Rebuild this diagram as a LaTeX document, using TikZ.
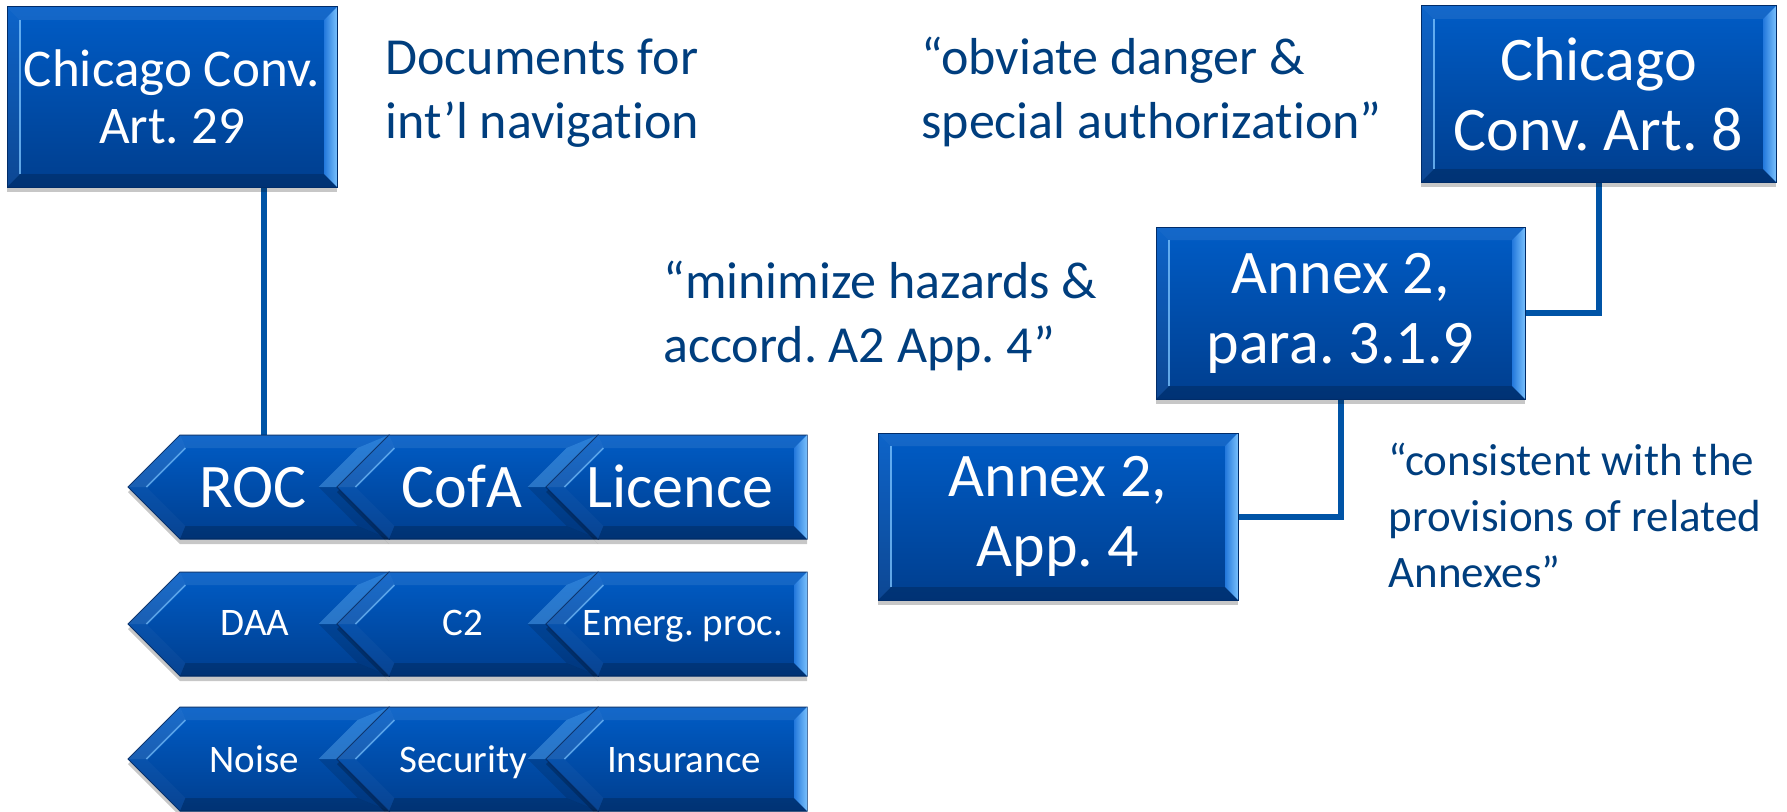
\documentclass[tikz,border=0pt]{standalone}
\usepackage{fontspec}
\setmainfont{Carlito}[Ligatures={NoCommon}]
\frenchspacing
\usetikzlibrary{shadows,calc,backgrounds}

\definecolor{boxtop}{RGB}{0,92,198}
\definecolor{boxbot}{RGB}{0,62,142}
\definecolor{boxline}{RGB}{0,44,105}
\definecolor{bevlight}{RGB}{120,192,252}
\definecolor{bevmid}{RGB}{35,120,220}
\definecolor{linkblue}{RGB}{0,84,166}
\definecolor{noteblue}{RGB}{0,62,126}

\tikzset{
  softshadow/.style={drop shadow={shadow xshift=0pt, shadow yshift=-2.5pt, opacity=0.22, fill=black}},
  bevelbox/.style={rectangle, inner sep=0pt, align=center, text=white,
    top color=boxtop, bottom color=boxbot, draw=boxline, line width=0.5pt, softshadow,
    path picture={
      \coordinate (nw) at (path picture bounding box.north west);
      \coordinate (ne) at (path picture bounding box.north east);
      \coordinate (sw) at (path picture bounding box.south west);
      \coordinate (se) at (path picture bounding box.south east);
      \fill[white,opacity=0.08] (nw) -- (ne) -- ($(ne)+(-13,-13)$) -- ($(nw)+(13,-13)$) -- cycle;
      \fill[black,opacity=0.18] (sw) -- (se) -- ($(se)+(-13,13)$) -- ($(sw)+(13,13)$) -- cycle;
      \fill[white,opacity=0.05] (nw) -- (sw) -- ($(sw)+(13,13)$) -- ($(nw)+(13,-13)$) -- cycle;
      \shade[left color=bevmid, right color=bevlight] (ne) -- (se) -- ($(se)+(-13,13)$) -- ($(ne)+(-13,-13)$) -- cycle;
      \draw[bevlight,line width=0.8pt,opacity=0.8] ($(nw)+(13,-13)$) -- ($(sw)+(13,13)$);
    }},
  chevfill/.style={top color=boxtop, bottom color=boxbot, draw=boxline, line width=0.5pt, softshadow},
  chevlabel/.style={text=white, inner sep=0pt, anchor=base, font=\fontsize{31}{36}\selectfont},
  chevsmall/.style={text=white, inner sep=0pt, anchor=base, font=\fontsize{19.5}{24}\selectfont},
  quotetext/.style={text=noteblue, align=left, inner sep=0pt, anchor=base west, font=\fontsize{26}{32}\selectfont},
  link/.style={draw=linkblue, line width=3pt},
}

% chevron pointing left with a notch on its right side: tip x, top y, bottom y
\newcommand\notchchev[3]{%
  \pgfmathsetmacro\midy{(#2+#3)/2}
  \shade[chevfill] (#1,\midy) -- ({#1+52},#2) -- ({#1+261},#2) -- ({#1+209},\midy) -- ({#1+261},#3) -- ({#1+52},#3) -- cycle;
  \fill[white,opacity=0.08] ({#1+52},#2) -- ({#1+261},#2) -- ({#1+229.6},{#2-13}) -- ({#1+57.4},{#2-13}) -- cycle;
  \fill[black,opacity=0.18] ({#1+52},#3) -- ({#1+261},#3) -- ({#1+229.6},{#3+13}) -- ({#1+57.4},{#3+13}) -- cycle;
  \fill[white,opacity=0.1] (#1,\midy) -- ({#1+52},#2) -- ({#1+57.4},{#2-13}) -- ({#1+18.4},\midy) -- cycle;
  \fill[white,opacity=0.03] (#1,\midy) -- ({#1+52},#3) -- ({#1+57.4},{#3+13}) -- ({#1+18.4},\midy) -- cycle;
  \fill[bevlight,opacity=0.35] ({#1+261},#2) -- ({#1+209},\midy) -- ({#1+190.6},\midy) -- ({#1+229.6},{#2-13}) -- cycle;
  \fill[black,opacity=0.12] ({#1+261},#3) -- ({#1+209},\midy) -- ({#1+190.6},\midy) -- ({#1+229.6},{#3+13}) -- cycle;
  \draw[bevlight,line width=0.8pt,opacity=0.7] ({#1+18.4},\midy) -- ({#1+57.4},{#2-13});
}
% chevron pointing left with a flat right end: tip x, top y, bottom y, right x
\newcommand\flatchev[4]{%
  \pgfmathsetmacro\midy{(#2+#3)/2}
  \shade[chevfill] (#1,\midy) -- ({#1+52},#2) -- (#4,#2) -- (#4,#3) -- ({#1+52},#3) -- cycle;
  \fill[white,opacity=0.08] ({#1+52},#2) -- (#4,#2) -- ({#4-13},{#2-13}) -- ({#1+57.4},{#2-13}) -- cycle;
  \fill[black,opacity=0.18] ({#1+52},#3) -- (#4,#3) -- ({#4-13},{#3+13}) -- ({#1+57.4},{#3+13}) -- cycle;
  \fill[white,opacity=0.1] (#1,\midy) -- ({#1+52},#2) -- ({#1+57.4},{#2-13}) -- ({#1+18.4},\midy) -- cycle;
  \fill[white,opacity=0.03] (#1,\midy) -- ({#1+52},#3) -- ({#1+57.4},{#3+13}) -- ({#1+18.4},\midy) -- cycle;
  \shade[left color=bevmid, right color=bevlight] (#4,#2) -- (#4,#3) -- ({#4-13},{#3+13}) -- ({#4-13},{#2-13}) -- cycle;
  \draw[bevlight,line width=0.8pt,opacity=0.7] ({#1+18.4},\midy) -- ({#1+57.4},{#2-13});
}

\begin{document}
\begin{tikzpicture}[x=0.5pt,y=0.5pt]
\useasboundingbox (0,0) rectangle (1787,811);

% rows of chevrons
\notchchev{128}{376}{272}
\notchchev{337}{376}{272}
\flatchev{546}{376}{272}{807}
\notchchev{128}{239}{135}
\notchchev{337}{239}{135}
\flatchev{546}{239}{135}{807}
\notchchev{128}{104}{0}
\notchchev{337}{104}{0}
\flatchev{546}{104}{0}{807}

\node[chevlabel] (roc) at (253,304) {ROC};
\node[chevlabel] (cofa) at (462,304) {CofA};
\node[chevlabel] (licence) at (680,304) {Licence};
\node[chevsmall] (daa) at (255,176) {DAA};
\node[chevsmall] (ctwo) at (463,176) {C2};
\node[chevsmall] (emerg) at (683,176) {Emerg. proc.};
\node[chevsmall] (noise) at (254,39) {Noise};
\node[chevsmall] (security) at (463,39) {Security};
\node[chevsmall] (insurance) at (684,39) {Insurance};
\coordinate (rowtop) at (264,376);

% boxes
\node[bevelbox, minimum width=165pt, minimum height=90pt,
      font=\fontsize{26.5}{28.5}\selectfont] (art29) at (172,714) {Chicago Conv.\\Art. 29};
\node[bevelbox, minimum width=177.5pt, minimum height=88pt,
      font=\fontsize{31}{35}\selectfont] (art8) at (1598.5,717) {Chicago\\Conv. Art. 8};
\node[bevelbox, minimum width=184.5pt, minimum height=86pt,
      font=\fontsize{31}{35}\selectfont] (para) at (1340.5,498) {Annex 2,\\para. 3.1.9};
\node[bevelbox, minimum width=180pt, minimum height=83.5pt,
      font=\fontsize{31}{35}\selectfont] (app4) at (1058,294.5) {Annex 2,\\App. 4};

% connectors
\begin{scope}[on background layer]
\draw[link] (art29.south -| rowtop) -- (rowtop);
\draw[link] (art8.south) |- (para.east);
\draw[link] (para.south) |- (app4.east);
\end{scope}

% remarks (anchored at the baseline of their last line)
\node[quotetext] (docs) at (385,673) {Documents for\\int’l navigation};
\node[quotetext] (obviate) at (921,673) {“obviate danger \&\\special authorization”};
\node[quotetext] (minimize) at (663,449) {“minimize hazards \&\\accord. A2 App. 4”};
\node[quotetext, font=\fontsize{22.5}{28}\selectfont] (consistent) at (1388,224) {“consistent with the\\provisions of related\\Annexes”};
\end{tikzpicture}
\end{document}
